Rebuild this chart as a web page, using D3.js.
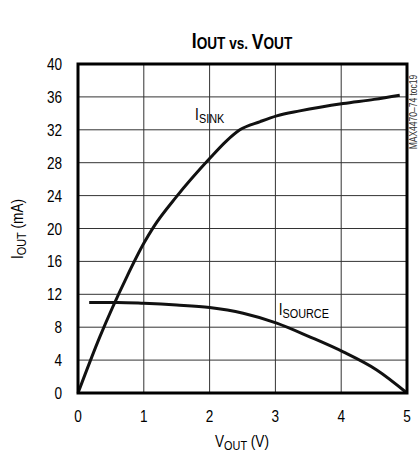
<!DOCTYPE html>
<html>
<head>
<meta charset="utf-8">
<script src="https://cdn.jsdelivr.net/npm/d3@7"></script>
<style>
body { margin: 0; background: #fff; }
text { font-family: "Liberation Sans", Arial, sans-serif; }
</style>
</head>
<body>
<div id="chart"></div>
<script>
var xTicks = [0, 1, 2, 3, 4, 5];
var yTicks = [0, 4, 8, 12, 16, 20, 24, 28, 32, 36, 40];

// sink current curve (V, mA)
var sinkV = [0, 0.33, 0.74, 1.0, 1.15, 1.5, 2.0, 2.25, 2.46, 2.77, 3.02, 3.37, 4.03, 4.5, 4.89];
var sinkI = [0, 6.8, 14.1, 18.2, 20.2, 23.9, 28.5, 30.6, 32.0, 33.0, 33.7, 34.3, 35.2, 35.7, 36.2];

// source current curve
var srcV = [0.17, 0.6, 1.0, 1.5, 2.0, 2.51, 3.02, 3.53, 4.03, 4.54, 5.0];
var srcI = [11.0, 11.0, 10.9, 10.7, 10.4, 9.7, 8.5, 6.8, 5.0, 2.8, 0];

var width = 420, height = 457;
var margin = {left: 78, right: 13, top: 64, bottom: 64};
var squeeze = 0.8; // narrow type like the datasheet

var svg = d3.select("#chart")
    .append("svg")
    .attr("width", width)
    .attr("height", height);

var x = d3.scaleLinear().domain([0, 5]).range([margin.left, width - margin.right]);
var y = d3.scaleLinear().domain([0, 40]).range([height - margin.bottom, margin.top]);

function at(px, py, rot) {
    return "translate(" + px + "," + py + ")" + (rot ? " rotate(" + rot + ")" : "") + " scale(" + squeeze + ",1)";
}

// grid
svg.append("g")
    .selectAll("line")
    .data(xTicks.slice(1, -1))
    .join("line")
    .attr("x1", d => x(d)).attr("x2", d => x(d))
    .attr("y1", y(0)).attr("y2", y(40))
    .attr("stroke", "#333").attr("stroke-width", 1);

svg.append("g")
    .selectAll("line")
    .data(yTicks.slice(1, -1))
    .join("line")
    .attr("y1", d => y(d)).attr("y2", d => y(d))
    .attr("x1", x(0)).attr("x2", x(5))
    .attr("stroke", "#333").attr("stroke-width", 1);

// tick labels
svg.append("g")
    .selectAll("text")
    .data(xTicks)
    .join("text")
    .attr("transform", d => at(x(d), y(0) + 29))
    .attr("text-anchor", "middle")
    .attr("font-size", 17)
    .text(d => d);

svg.append("g")
    .selectAll("text")
    .data(yTicks)
    .join("text")
    .attr("transform", d => at(x(0) - 16, y(d) + 6))
    .attr("text-anchor", "end")
    .attr("font-size", 17)
    .text(d => d);

// curves
var line = d3.line().curve(d3.curveMonotoneX);

svg.append("path")
    .attr("d", line(sinkV.map((v, i) => [x(v), y(sinkI[i])])))
    .attr("fill", "none").attr("stroke", "#111").attr("stroke-width", 3);

svg.append("path")
    .attr("d", line(srcV.map((v, i) => [x(v), y(srcI[i])])))
    .attr("fill", "none").attr("stroke", "#111").attr("stroke-width", 3);

// frame
svg.append("rect")
    .attr("x", x(0)).attr("y", y(40))
    .attr("width", x(5) - x(0)).attr("height", y(0) - y(40))
    .attr("fill", "none").attr("stroke", "#000").attr("stroke-width", 3);

// text with subscript helper
function subText(sel, main, sub, rest, size) {
    sel.append("tspan").text(main);
    sel.append("tspan").attr("font-size", size * 0.8).attr("dy", 3).text(sub);
    if (rest) sel.append("tspan").attr("dy", -3).text(rest);
}

var title = svg.append("text")
    .attr("transform", at(242, 48))
    .attr("text-anchor", "middle")
    .attr("font-size", 22)
    .attr("font-weight", "bold");
title.append("tspan").text("I");
title.append("tspan").attr("font-size", 17).attr("dy", 1).text("OUT");
title.append("tspan").attr("font-size", 17).text(" vs. ");
title.append("tspan").attr("font-size", 22).text("V");
title.append("tspan").attr("font-size", 17).text("OUT");

var xt = svg.append("text")
    .attr("transform", at(242, 447))
    .attr("text-anchor", "middle")
    .attr("font-size", 17);
subText(xt, "V", "OUT", " (V)", 17);

var yt = svg.append("text")
    .attr("transform", at(23, 229, -90))
    .attr("text-anchor", "middle")
    .attr("font-size", 17);
subText(yt, "I", "OUT", " (mA)", 17);

var sl = svg.append("text")
    .attr("transform", at(x(1.78), y(33.2)))
    .attr("font-size", 17);
subText(sl, "I", "SINK", null, 17);

var so = svg.append("text")
    .attr("transform", at(x(3.05), y(9.5)))
    .attr("font-size", 17);
subText(so, "I", "SOURCE", null, 17);

svg.append("text")
    .attr("transform", "translate(417,112) rotate(-90) scale(0.85,1)")
    .attr("text-anchor", "middle")
    .attr("font-size", 10)
    .attr("fill", "#333")
    .text("MAX4470–74 toc19");
</script>
</body>
</html>
